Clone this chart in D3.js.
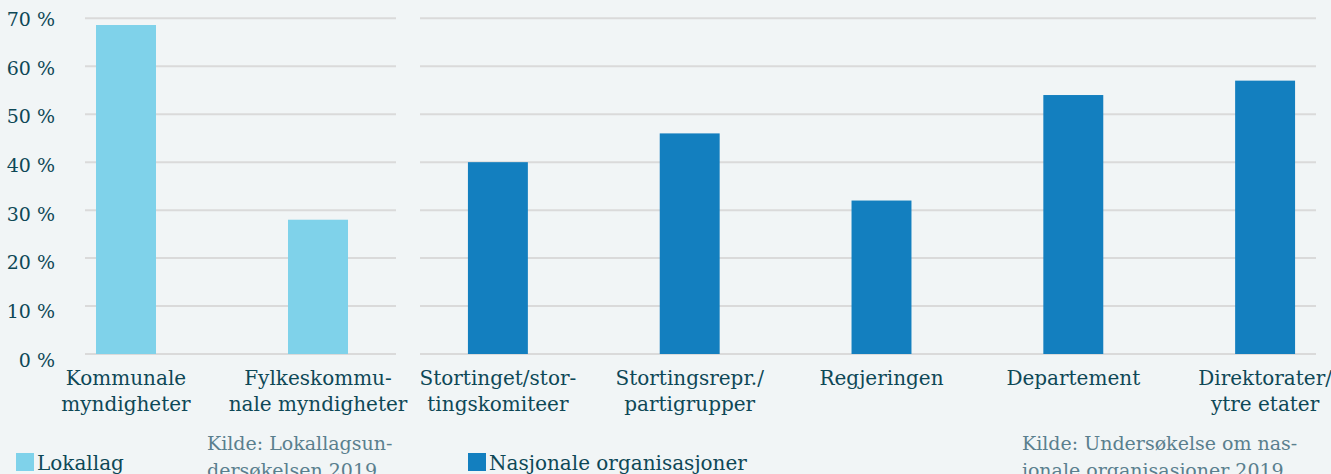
<!DOCTYPE html>
<html><head><meta charset="utf-8">
<script src="https://cdn.jsdelivr.net/npm/d3@7"></script>
<style>
html,body{margin:0;padding:0;background:#f1f5f6;}
svg{display:block;}
</style></head>
<body>
<svg id="c" width="1331" height="474"></svg>
<script>
const localCats = [["Kommunale","myndigheter"],["Fylkeskommu-","nale myndigheter"]];
const localVals = [68.6, 28];
const natCats = [["Stortinget/stor-","tingskomiteer"],["Stortingsrepr./","partigrupper"],["Regjeringen"],["Departement"],["Direktorater/","ytre etater"]];
const natVals = [40, 46, 32, 54, 57];
const yTicks = [0,10,20,30,40,50,60,70];
const yTickLabels = ["0 %","10 %","20 %","30 %","40 %","50 %","60 %","70 %"];
const legendLabels = ["Lokallag","Nasjonale organisasjoner"];
const sourceLeft = ["Kilde: Lokallagsun-","dersøkelsen 2019"];
const sourceRight = ["Kilde: Undersøkelse om nas-","jonale organisasjoner 2019"];

const FONT = "'DejaVu Serif', serif";
const TXT = "#0e4856";
const SRC = "#5a7f8e";
const C1 = "#7fd2ea", C2 = "#137fbf";
const svg = d3.select("#c");

const y = d3.scaleLinear().domain([0,70]).range([354,18.3]);
const yLab = d3.scaleLinear().domain([0,70]).range([360,19.5]);

// y labels
svg.append("g").selectAll("text").data(yTicks).join("text")
  .attr("x",55).attr("y",d=>yLab(d)).attr("dy","0.35em")
  .attr("text-anchor","end").attr("font-family",FONT).attr("font-size",19)
  .attr("fill",TXT).text((d,i)=>yTickLabels[i]);

function panel(cats, vals, color, range, gx0, gx1){
  const x = d3.scaleBand().domain(cats.map((c,i)=>i)).range(range).paddingInner(0.6875).paddingOuter(0.34375);
  const g = svg.append("g");
  g.selectAll("line.grid").data(yTicks).join("line").attr("class","grid")
    .attr("x1",gx0).attr("x2",gx1).attr("y1",d=>y(d)).attr("y2",d=>y(d))
    .attr("stroke","#dadada").attr("stroke-width",2);
  g.selectAll("rect").data(vals).join("rect")
    .attr("x",(d,i)=>x(i)).attr("width",x.bandwidth())
    .attr("y",d=>y(d)).attr("height",d=>y(0)-y(d)).attr("fill",color);
  const t = g.selectAll("text.cat").data(cats).join("text").attr("class","cat")
    .attr("x",(d,i)=>x(i)+x.bandwidth()/2).attr("y",385)
    .attr("text-anchor","middle").attr("font-family",FONT).attr("font-size",20).attr("fill",TXT);
  t.each(function(d){
    const s=d3.select(this);
    d.forEach((line,k)=>s.append("tspan").attr("x",s.attr("x")).attr("dy",k?26:0).text(line));
  });
}
panel(localCats, localVals, C1, [30,414], 85, 396);
panel(natCats, natVals, C2, [402,1361], 420, 1316);

// legends
const leg = [{x:16,c:C1,t:legendLabels[0]},{x:468,c:C2,t:legendLabels[1]}];
const lg = svg.append("g").selectAll("g").data(leg).join("g");
lg.append("rect").attr("x",d=>d.x).attr("y",453).attr("width",18).attr("height",18).attr("fill",d=>d.c);
lg.append("text").attr("x",d=>d.x+21).attr("y",470).attr("font-family",FONT).attr("font-size",20)
  .attr("fill",TXT).text(d=>d.t);

// sources
[{x:207,l:sourceLeft},{x:1022,l:sourceRight}].forEach(s=>{
  const t = svg.append("text").attr("x",s.x).attr("y",450).attr("font-family",FONT)
    .attr("font-size",19).attr("font-weight",300).attr("fill",SRC);
  s.l.forEach((line,k)=>t.append("tspan").attr("x",s.x).attr("dy",k?27:0).text(line));
});
</script>
</body></html>
